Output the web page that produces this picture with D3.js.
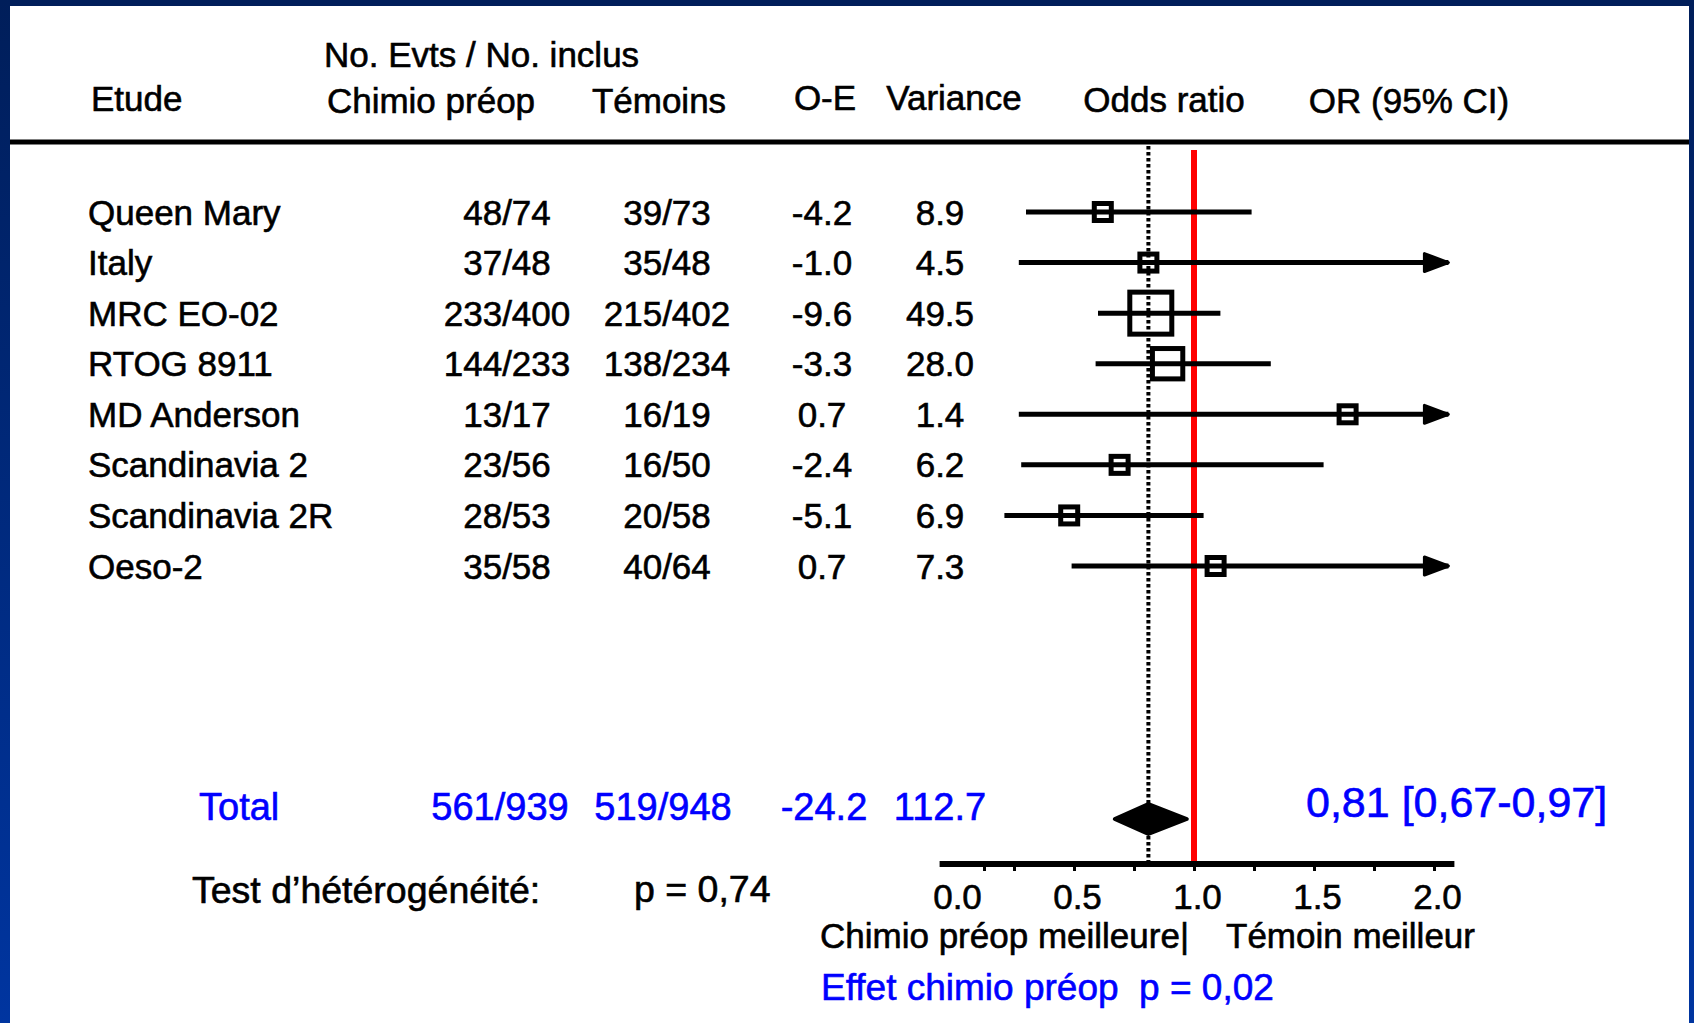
<!DOCTYPE html>
<html><head><meta charset="utf-8">
<script src="https://cdn.jsdelivr.net/npm/d3@7"></script>
<style>
body{margin:0;background:#fff;overflow:hidden}
svg{display:block;font-family:"Liberation Sans",Arial,sans-serif}
text{white-space:pre;stroke:currentColor;stroke-width:0.6px}
</style>
</head><body><svg id="c" width="1694" height="1023"></svg>
<script>
// ---------- data ----------
const studies   = ["Queen Mary","Italy","MRC EO-02","RTOG 8911","MD Anderson","Scandinavia 2","Scandinavia 2R","Oeso-2"];
const chimio    = ["48/74","37/48","233/400","144/233","13/17","23/56","28/53","35/58"];
const temoins   = ["39/73","35/48","215/402","138/234","16/19","16/50","20/58","40/64"];
const oe        = ["-4.2","-1.0","-9.6","-3.3","0.7","-2.4","-5.1","0.7"];
const variance  = [8.9,4.5,49.5,28.0,1.4,6.2,6.9,7.3];
const oddsRatio = [0.62,0.81,0.82,0.89,1.64,0.69,0.48,1.09];
const ciLow     = [0.30,0.27,0.60,0.59,0.27,0.28,0.21,0.49];
const ciHigh    = [1.24,2.30,1.11,1.32,8.60,1.54,1.04,2.30];

const totalRow  = ["Total","561/939","519/948","-24.2","112.7"];
const totalOR   = [0.81, 0.67, 0.97];   // estimate, low, high
const totalText = "0,81 [0,67-0,97]";

const headers   = ["Etude","Chimio préop","Témoins","O-E","Variance","Odds ratio","OR (95% CI)"];
const superHeader = "No. Evts / No. inclus";
const minorTicks = [0.125,0.25,0.5,0.75,1,1.25,1.5,1.75,2];
const tickLabels = [0,0.5,1,1.5,2];
const heteroText = ["Test d’hétérogénéité:","p = 0,74"];
const sideLabels = ["Chimio préop meilleure|","Témoin meilleur"];
const effectText = "Effet chimio préop  p = 0,02";

// ---------- layout ----------
const W = 1694, H = 1023;
const svg = d3.select("#c");
const BLUE = "#0000ff";

const x = d3.scaleLinear().domain([0,2]).range([954,1434]);
const y = d3.scalePoint().domain(studies).range([212,566]);
const boxSize = d3.scaleSqrt().domain([0,49.5]).range([0,47]);
const xMaxDraw = 2.06, xAxisMin = -0.06, xAxisMax = 2.085;
const plotTop = 146, axisY = 864;
const yTotal = 806, yDiamond = 819;

// frame
const grad = svg.append("defs").append("linearGradient").attr("id","bg")
  .attr("x1",0).attr("y1",0).attr("x2",0).attr("y2",1);
grad.append("stop").attr("offset","0").attr("stop-color","#001e5a");
grad.append("stop").attr("offset","1").attr("stop-color","#0035a0");
svg.append("rect").attr("x",0).attr("y",0).attr("width",W).attr("height",6).attr("fill","#001e5a");
svg.append("rect").attr("x",0).attr("y",0).attr("width",10).attr("height",H).attr("fill","url(#bg)");
svg.append("rect").attr("x",W-5).attr("y",0).attr("width",5).attr("height",H).attr("fill","url(#bg)");

// header
const hdr = svg.append("g").attr("font-size",35).attr("fill","#000").style("color","#000");
hdr.append("text").attr("x",324).attr("y",67).text(superHeader);
const hx = [91,431,659,825,954,1164,1409];
const hy = [111,113,113,110,110,112,113];
const ha = ["start","middle","middle","middle","middle","middle","middle"];
headers.forEach((h,i)=>hdr.append("text").attr("x",hx[i]).attr("y",hy[i]).attr("text-anchor",ha[i]).text(h));
svg.append("line").attr("x1",10).attr("x2",W-5).attr("y1",142).attr("y2",142)
  .attr("stroke","#000").attr("stroke-width",5);

// reference lines
svg.append("line").attr("x1",x(totalOR[0])).attr("x2",x(totalOR[0]))
  .attr("y1",plotTop).attr("y2",axisY).attr("stroke","#000").attr("stroke-width",4)
  .attr("stroke-dasharray","3.5,2.5");
svg.append("line").attr("x1",x(1)).attr("x2",x(1))
  .attr("y1",plotTop+4).attr("y2",axisY).attr("stroke","#ff0000").attr("stroke-width",6);

// rows
const rows = svg.append("g");
const rowText = rows.append("g").attr("font-size",35).style("color","#000");
studies.forEach((s,i)=>{
  const yy = y(s);
  const ty = yy + 12.5;
  rowText.append("text").attr("x",88).attr("y",ty).text(s);
  rowText.append("text").attr("x",507).attr("y",ty).attr("text-anchor","middle").text(chimio[i]);
  rowText.append("text").attr("x",667).attr("y",ty).attr("text-anchor","middle").text(temoins[i]);
  rowText.append("text").attr("x",822).attr("y",ty).attr("text-anchor","middle").text(oe[i]);
  rowText.append("text").attr("x",940).attr("y",ty).attr("text-anchor","middle").text(d3.format(".1f")(variance[i]));

  const hi = Math.min(ciHigh[i], xMaxDraw);
  rows.append("line").attr("x1",x(ciLow[i])).attr("x2",x(hi)).attr("y1",yy).attr("y2",yy)
    .attr("stroke","#000").attr("stroke-width",5);
  if (ciHigh[i] > xMaxDraw) {
    const tip = x(xMaxDraw);
    rows.append("path").attr("d",`M${tip-24},${yy-9} L${tip},${yy} L${tip-24},${yy+9} Z`)
      .attr("fill","#000").attr("stroke","#000").attr("stroke-width",3).attr("stroke-linejoin","round");
  }
  const sz = Math.max(22, boxSize(variance[i]));
  rows.append("rect").attr("x",x(oddsRatio[i])-sz/2+2.5).attr("y",yy-sz/2+2.5)
    .attr("width",sz-5).attr("height",sz-5)
    .attr("fill","none").attr("stroke","#000").attr("stroke-width",5);
});

// total row
const tot = svg.append("g").attr("font-size",38).attr("fill",BLUE).style("color",BLUE);
const tx = [199,500,663,824,940];
totalRow.forEach((t,i)=>tot.append("text").attr("x",tx[i]).attr("y",yTotal+14)
  .attr("text-anchor",i===0?"start":"middle").text(t));
svg.append("text").attr("x",1306).attr("y",817).attr("font-size",43).attr("fill",BLUE).style("color",BLUE).text(totalText);
svg.append("path")
  .attr("d",`M${x(totalOR[1])},${yDiamond} L${x(totalOR[0])},${yDiamond-15} L${x(totalOR[2])},${yDiamond} L${x(totalOR[0])},${yDiamond+15} Z`)
  .attr("fill","#000").attr("stroke","#000").attr("stroke-width",4).attr("stroke-linejoin","round");

// axis
svg.append("line").attr("x1",x(xAxisMin)).attr("x2",x(xAxisMax)).attr("y1",axisY).attr("y2",axisY)
  .attr("stroke","#000").attr("stroke-width",6);
const ax = svg.append("g").attr("transform",`translate(0,${axisY+2})`)
  .call(d3.axisBottom(x).tickValues(minorTicks).tickSize(5).tickSizeOuter(0).tickFormat(""));
ax.select(".domain").remove();
ax.selectAll(".tick line").attr("stroke","#000").attr("stroke-width",3);
const ax2 = svg.append("g").attr("transform",`translate(0,${axisY})`)
  .call(d3.axisBottom(x).tickValues(tickLabels).tickSize(0).tickPadding(20).tickFormat(d3.format(".1f")));
ax2.select(".domain").remove();
ax2.selectAll("text").attr("font-size",35).attr("font-family","Liberation Sans, Arial, sans-serif")
  .attr("fill","#000").style("color","#000").attr("dx","3");

// bottom texts
const bt = svg.append("g").attr("font-size",37.5).style("color","#000");
bt.append("text").attr("x",192).attr("y",903).text(heteroText[0]);
bt.append("text").attr("x",634).attr("y",902).text(heteroText[1]);
const sl = svg.append("g").attr("font-size",35).style("color","#000");
sl.append("text").attr("x",1189).attr("y",948).attr("text-anchor","end").text(sideLabels[0]);
sl.append("text").attr("x",1226).attr("y",948).text(sideLabels[1]);
svg.append("text").attr("x",821).attr("y",1000).attr("font-size",37).attr("fill",BLUE).style("color",BLUE).text(effectText);
</script>
</body></html>
